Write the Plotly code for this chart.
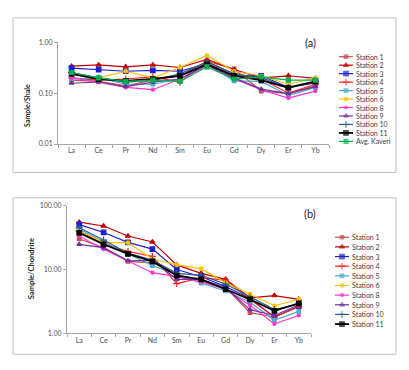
import plotly.graph_objects as go

elements = ["La", "Ce", "Pr", "Nd", "Sm", "Eu", "Gd", "Dy", "Er", "Yb"]
stations = ["Station 1", "Station 2", "Station 3", "Station 4", "Station 5", "Station 6",
            "Station 8", "Station 9", "Station 10", "Station 11", "Avg. Kaveri"]

# (a) Sample / Shale
shale_s1 = [0.18, 0.17, 0.14, 0.18, 0.22, 0.42, 0.30, 0.11, 0.098, 0.14]
shale_s2 = [0.34, 0.36, 0.33, 0.36, 0.32, 0.46, 0.29, 0.20, 0.22, 0.195]
shale_s3 = [0.31, 0.29, 0.27, 0.28, 0.27, 0.38, 0.22, 0.22, 0.13, 0.16]
shale_s4 = [0.20, 0.18, 0.19, 0.21, 0.165, 0.41, 0.24, 0.19, 0.10, 0.15]
shale_s5 = [0.19, 0.20, 0.15, 0.15, 0.19, 0.38, 0.175, 0.17, 0.09, 0.13]
shale_s6 = [0.24, 0.20, 0.27, 0.20, 0.32, 0.55, 0.27, 0.22, 0.15, 0.20]
shale_s8 = [0.20, 0.165, 0.13, 0.117, 0.19, 0.33, 0.19, 0.117, 0.08, 0.11]
shale_s9 = [0.157, 0.166, 0.135, 0.165, 0.19, 0.36, 0.20, 0.12, 0.098, 0.135]
shale_s10 = [0.255, 0.20, 0.165, 0.18, 0.24, 0.41, 0.24, 0.20, 0.13, 0.17]
shale_s11 = [0.24, 0.19, 0.175, 0.19, 0.22, 0.37, 0.22, 0.18, 0.128, 0.17]
shale_avg = [0.255, 0.20, 0.17, 0.18, 0.17, 0.33, 0.19, 0.21, 0.18, 0.18]

# (b) Sample / Chondrite
chon_s1 = [30, 22, 13.4, 12.7, 8.4, 6.6, 5.2, 2.1, 1.8, 2.65]
chon_s2 = [55, 48, 33.4, 27, 11.8, 8.7, 7.0, 3.6, 3.9, 3.4]
chon_s3 = [50.5, 38, 26.6, 20.8, 10.0, 7.7, 5.4, 3.5, 1.8, 2.65]
chon_s4 = [40, 25, 19.2, 16, 6.0, 7.4, 6.8, 3.4, 1.8, 2.6]
chon_s5 = [43, 27, 17.6, 11.5, 8.4, 6.1, 4.6, 3.1, 1.6, 2.2]
chon_s6 = [40, 26.3, 26.3, 14.6, 11.8, 10.3, 6.2, 4.1, 2.7, 3.4]
chon_s8 = [33.4, 20.8, 13.6, 8.9, 7.7, 6.4, 4.9, 2.75, 1.4, 1.9]
chon_s9 = [24.8, 22, 13.7, 13.9, 7.0, 7.0, 5.2, 2.35, 1.9, 2.8]
chon_s10 = [45, 28.9, 18, 14, 8.7, 8.1, 5.9, 3.7, 2.35, 2.9]
chon_s11 = [37.5, 24.8, 17.6, 13.4, 8.0, 7.0, 4.9, 3.4, 2.25, 2.95]

shale = [shale_s1, shale_s2, shale_s3, shale_s4, shale_s5, shale_s6,
         shale_s8, shale_s9, shale_s10, shale_s11, shale_avg]
chon = [chon_s1, chon_s2, chon_s3, chon_s4, chon_s5, chon_s6,
        chon_s8, chon_s9, chon_s10, chon_s11]

colors = ["#C0504D", "#C00000", "#1F1FD0", "#FF2020", "#4BACC6", "#FFC000",
          "#FF33CC", "#7030A0", "#2E5A8C", "#000000", "#00B050"]
symbols = ["square", "triangle-up", "square", "cross-thin-open", "square", "circle",
           "circle", "triangle-up", "cross-thin-open", "square", "square"]
msizes = [3.5, 4.5, 4.5, 5, 3.5, 3.5, 3, 4, 5, 4.5, 4]
lwidths = [1.2, 1.2, 1.2, 1.2, 1.2, 1.2, 1.2, 1.2, 1.2, 1.8, 1.2]

# page is 409x370 but the html body has an 8px margin
OFF = 8
W, H = 409 - OFF, 370 - OFF
FONT = "Lato"


def px(v):
    return (v - OFF) / W


def py(v):
    return 1 - (v - OFF) / H


fig = go.Figure()


def mk(i):
    return dict(symbol=symbols[i], size=msizes[i], color=colors[i],
                line=dict(color=colors[i], width=1.2))


for i, ys in enumerate(shale):
    fig.add_trace(go.Scatter(x=elements, y=ys, mode="lines+markers", name=stations[i],
                             line=dict(color=colors[i], width=lwidths[i]), marker=mk(i),
                             xaxis="x", yaxis="y", showlegend=False))
for i, ys in enumerate(chon):
    fig.add_trace(go.Scatter(x=elements, y=ys, mode="lines+markers", name=stations[i],
                             line=dict(color=colors[i], width=lwidths[i]), marker=mk(i),
                             xaxis="x2", yaxis="y2", showlegend=False))


# manual legends on a full-page pixel overlay axis
def legend(n, x0, x1, xt, ytop, step):
    for i in range(n):
        yy = ytop + i * step
        fig.add_trace(go.Scatter(x=[x0, (x0 + x1) / 2, x1], y=[yy, yy, yy],
                                 mode="lines+markers", line=dict(color=colors[i], width=lwidths[i]),
                                 marker=dict(symbol=symbols[i], size=[0, msizes[i], 0], color=colors[i],
                                             line=dict(color=colors[i], width=1.2)),
                                 xaxis="x3", yaxis="y3", showlegend=False, hoverinfo="skip"))
        fig.add_annotation(x=px(xt), y=py(yy), xref="paper", yref="paper", text=stations[i],
                           showarrow=False, xanchor="left", yanchor="middle",
                           font=dict(size=7, color="#404040", family=FONT))


legend(11, 339, 353, 354, 52.7, 8.66)
legend(10, 335, 349, 350, 237.3, 9.87)

axis_common = dict(showline=True, linecolor="#A6A6A6", linewidth=1, showgrid=False,
                   zeroline=False, tickfont=dict(size=7, color="#505050", family=FONT))

fig.update_layout(
    width=W, height=H, margin=dict(l=0, r=0, t=0, b=0),
    paper_bgcolor="white", plot_bgcolor="rgba(0,0,0,0)",
    xaxis=dict(domain=[px(58), px(329)], anchor="y", type="category", range=[-0.5, 9.5],
               ticks="outside", ticklen=3, tickcolor="#A6A6A6", tickson="boundaries", **axis_common),
    yaxis=dict(domain=[py(142), py(38)], anchor="x", type="log", range=[-2, 0],
               tickvals=[0.01, 0.1, 1], ticktext=["0.01", "0.10", "1.00"],
               ticks="outside", ticklen=3, tickcolor="#A6A6A6", **axis_common),
    xaxis2=dict(domain=[px(67), px(311)], anchor="y2", type="category", range=[-0.5, 9.5],
                ticks="outside", ticklen=3, tickcolor="#A6A6A6", tickson="boundaries", **axis_common),
    yaxis2=dict(domain=[py(335.5), py(205)], anchor="x2", type="log", range=[0, 2],
                tickvals=[1, 10, 100], ticktext=["1.00", "10.00", "100.00"],
                ticks="outside", ticklen=3, tickcolor="#A6A6A6", **axis_common),
    xaxis3=dict(domain=[0, 1], anchor="y3", range=[OFF, OFF + W], visible=False, fixedrange=True),
    yaxis3=dict(domain=[0, 1], anchor="x3", range=[OFF + H, OFF], visible=False, fixedrange=True),
    showlegend=False,
)

# panel frames
for (y0, y1) in [(13, 171), (197, 357)]:
    fig.add_shape(type="rect", xref="paper", yref="paper", x0=px(13), x1=px(396),
                  y0=py(y1), y1=py(y0), line=dict(color="#BFBFBF", width=1))

# axis titles and panel labels
fig.add_annotation(x=px(27), y=py(103), xref="paper", yref="paper", text="<b>Sample/Shale</b>",
                   textangle=-90, showarrow=False, xanchor="center", yanchor="middle",
                   font=dict(size=7, color="#262626", family=FONT))
fig.add_annotation(x=px(31), y=py(270), xref="paper", yref="paper", text="<b>Sample/Chondrite</b>",
                   textangle=-90, showarrow=False, xanchor="center", yanchor="middle",
                   font=dict(size=7.5, color="#262626", family=FONT))
fig.add_annotation(x=px(318), y=py(29), xref="paper", yref="paper", text="(a)",
                   showarrow=False, font=dict(size=11, color="#262626", family=FONT))
fig.add_annotation(x=px(318), y=py(213), xref="paper", yref="paper", text="(b)",
                   showarrow=False, font=dict(size=11, color="#262626", family=FONT))

fig.write_html("out.html")
